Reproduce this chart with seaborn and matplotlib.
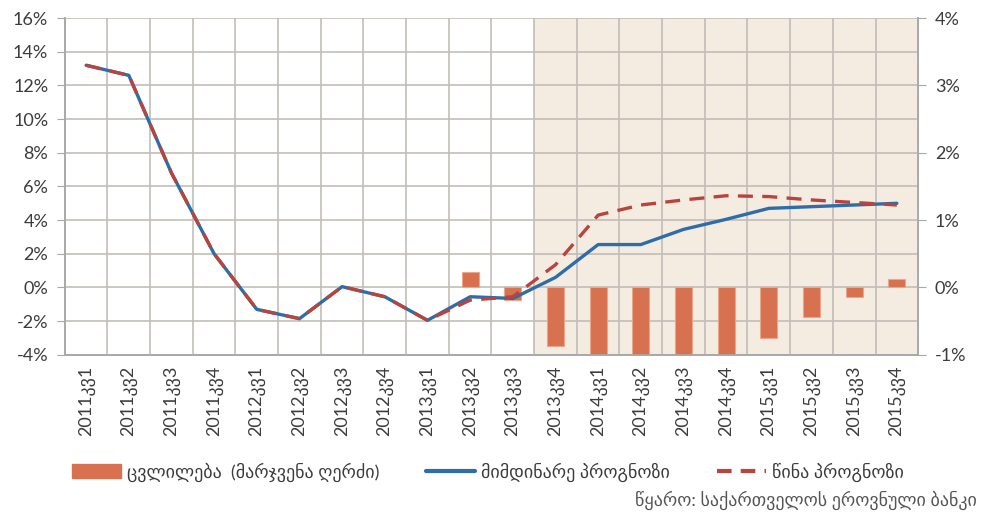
import numpy as np
import pandas as pd
import matplotlib
matplotlib.use("Agg")
import matplotlib.pyplot as plt
import seaborn as sns
from matplotlib.patches import Patch
from matplotlib.lines import Line2D
from matplotlib.ticker import FuncFormatter, MultipleLocator

sns.set_style("white")
plt.rcParams["font.family"] = ["Lato", "DejaVu Sans"]

# Quarters
quarters = [
    "2011კვ1", "2011კვ2", "2011კვ3", "2011კვ4",
    "2012კვ1", "2012კვ2", "2012კვ3", "2012კვ4",
    "2013კვ1", "2013კვ2", "2013კვ3", "2013კვ4",
    "2014კვ1", "2014კვ2", "2014კვ3", "2014კვ4",
    "2015კვ1", "2015კვ2", "2015კვ3", "2015კვ4",
]

# Current forecast, % (left axis)
current_forecast = [13.2, 12.6, 6.8, 2.0, -1.3, -1.85, 0.05, -0.55, -1.95, -0.55,
                    -0.65, 0.6, 2.55, 2.55, 3.45, 4.05, 4.7, 4.8, 4.9, 5.0]

# Previous forecast, % (left axis)
previous_forecast = [13.2, 12.6, 6.8, 2.0, -1.3, -1.85, 0.05, -0.55, -1.95, -0.75,
                     -0.55, 1.35, 4.3, 4.9, 5.2, 5.45, 5.4, 5.2, 5.05, 4.9]

# Revision, percentage points (right axis)
revision = [np.nan, np.nan, np.nan, np.nan, np.nan, np.nan, np.nan, np.nan, np.nan,
            0.23, -0.18, -0.87, -1.0, -1.0, -1.0, -1.0, -0.75, -0.44, -0.14, 0.12]

# Forecast period starts here
forecast_start = "2013კვ4"

lbl_bar = "ცვლილება  (მარჯვენა ღერძი)"
lbl_cur = "მიმდინარე პროგნოზი"
lbl_prev = "წინა პროგნოზი"
source = "წყარო: საქართველოს ეროვნული ბანკი"

C_BAR = "#D8714F"
C_CUR = "#2E6DA8"
C_PREV = "#B9443D"
C_SHADE = "#F4ECE1"
C_GRID = "#C2BDB8"
C_AXIS = "#A8A8A8"
C_TEXT = "#3C3C3C"

df = pd.DataFrame({
    "quarter": quarters,
    "pos": np.arange(len(quarters)),
    "current": current_forecast,
    "previous": previous_forecast,
    "revision": revision,
})

fig = plt.figure(figsize=(9.82, 5.18), dpi=100)
ax = fig.add_subplot(111)
ax2 = ax.twinx()
fig.subplots_adjust(left=0.066, right=0.935, top=0.965, bottom=0.315)

# Bars and background on the right-hand axis, lines on top
ax.set_zorder(2)
ax2.set_zorder(1)
ax.patch.set_visible(False)

start = quarters.index(forecast_start) - 0.5
ax2.axvspan(start, len(quarters) - 0.5, color=C_SHADE, zorder=0, lw=0)

sns.barplot(data=df, x="quarter", y="revision", order=quarters, ax=ax2,
            color=C_BAR, width=0.4, edgecolor="#E9A78E", linewidth=0.8,
            saturation=1, zorder=3)

ax2.set_ylim(-1, 4)
ax2.yaxis.set_major_locator(MultipleLocator(1))
ax2.yaxis.set_minor_locator(MultipleLocator(0.5))
ax2.yaxis.set_major_formatter(FuncFormatter(lambda v, p: f"{v:.0f}%"))
ax2.yaxis.grid(True, which="both", color=C_GRID, lw=1.2, zorder=1)
ax2.set_axisbelow(True)
ax2.tick_params(axis="y", which="major", length=6, color=C_AXIS,
                labelsize=13, labelcolor=C_TEXT, pad=6)
ax2.tick_params(axis="y", which="minor", length=0)
ax2.set_ylabel("")

sns.lineplot(data=df, x="pos", y="current", ax=ax, color=C_CUR, lw=2.4, zorder=5)
sns.lineplot(data=df, x="pos", y="previous", ax=ax, color=C_PREV, lw=2.4,
             dashes=False, zorder=6)
ax.lines[-1].set_linestyle((0, (4.5, 2.8)))

ax.set_ylim(-4, 16)
ax.yaxis.set_major_locator(MultipleLocator(2))
ax.yaxis.set_major_formatter(FuncFormatter(lambda v, p: f"{v:.0f}%"))
ax.set_xlim(-0.5, len(quarters) - 0.5)
ax.set_xticks(df["pos"])
ax.set_xticklabels(quarters, rotation=90)
ax.set_xticks(np.arange(-0.5, len(quarters), 1), minor=True)
ax.xaxis.grid(True, which="minor", color=C_GRID, lw=1.2)
ax.xaxis.grid(False, which="major")
ax.yaxis.grid(False)
ax.tick_params(axis="x", which="major", length=0, labelsize=13,
               labelcolor=C_TEXT, pad=8)
ax.tick_params(axis="x", which="minor", length=6, color=C_AXIS)
ax.tick_params(axis="y", length=6, color=C_AXIS, labelsize=13,
               labelcolor=C_TEXT, pad=6)
ax.set_xlabel("")
ax.set_ylabel("")

for a in (ax, ax2):
    for side in ("left", "right", "bottom"):
        a.spines[side].set_visible(True)
        a.spines[side].set_color(C_AXIS)
        a.spines[side].set_linewidth(1.2)
    a.spines["top"].set_visible(False)

handles = [
    Patch(facecolor=C_BAR, edgecolor=C_BAR),
    Line2D([0], [0], color=C_CUR, lw=3),
    Line2D([0], [0], color=C_PREV, lw=3, ls=(0, (3.5, 2.2))),
]
fig.legend(handles, [lbl_bar, lbl_cur, lbl_prev], loc="center",
           bbox_to_anchor=(0.497, 0.089), ncol=3, frameon=False,
           fontsize=13, handlelength=2.7, handleheight=0.75,
           columnspacing=2.6, handletextpad=0.35, labelcolor=C_TEXT)

fig.text(0.995, 0.035, source, ha="right", va="center", fontsize=13,
         color="#555555")

fig.savefig("out.png", dpi=100, facecolor="white")
